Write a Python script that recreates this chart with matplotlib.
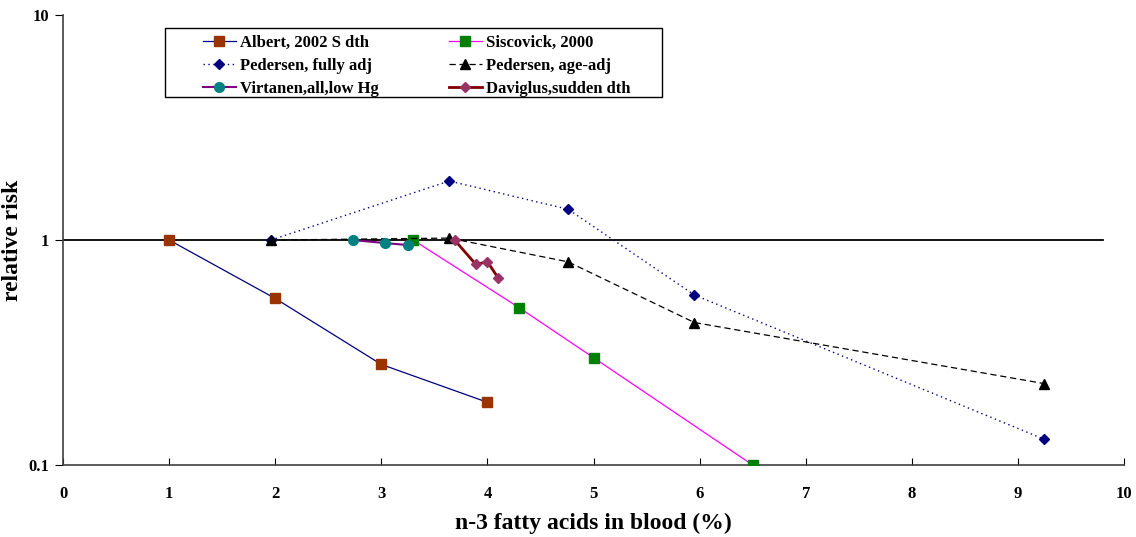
import matplotlib
matplotlib.use("Agg")
import matplotlib.pyplot as plt
from matplotlib.patches import Rectangle
from matplotlib.ticker import FixedLocator, FixedFormatter, NullLocator

# relative risk vs. blood n-3 fatty acid level, per study
albert_x = [1.0, 2.0, 3.0, 4.0]
albert_y = [1.0, 0.55, 0.28, 0.19]

sisc_x = [3.3, 4.3, 5.0, 6.5]
sisc_y = [1.0, 0.50, 0.30, 0.10]

ped_full_x = [1.96, 3.64, 4.76, 5.95, 9.25]
ped_full_y = [1.0, 1.83, 1.37, 0.57, 0.13]

ped_age_x = [1.96, 3.64, 4.76, 5.95, 9.25]
ped_age_y = [1.0, 1.02, 0.80, 0.43, 0.23]

virt_x = [2.73, 3.03, 3.25]
virt_y = [1.0, 0.97, 0.95]

davig_x = [3.69, 3.89, 4.0, 4.1]
davig_y = [1.0, 0.78, 0.80, 0.68]

x_ticks = list(range(0, 11))
y_ticks = [0.1, 1, 10]
y_tick_labels = ["0.1", "1", "10"]

plt.rcParams["font.family"] = ["Liberation Serif", "DejaVu Serif"]
plt.rcParams["font.weight"] = "bold"

fig = plt.figure(figsize=(11.36, 5.37), dpi=100)
ax = fig.add_axes([0.0555, 0.134, 0.934, 0.838])

ax.plot([0, 9.8], [1, 1], color="black", lw=1.3, zorder=1)

h_alb, = ax.plot(albert_x, albert_y, color="#000080", lw=0.9, marker="s", ms=6.5,
                 mfc="#993300", mec="#993300", label="Albert, 2002 S dth", zorder=3)
h_sis, = ax.plot(sisc_x, sisc_y, color="#FF00FF", lw=0.9, marker="s", ms=6.5,
                 mfc="#008000", mec="#008000", label="Siscovick, 2000", zorder=3)
h_pf, = ax.plot(ped_full_x, ped_full_y, color="#000080", lw=1.0, ls=(0, (1, 2.5)),
                marker="D", ms=5, mfc="#000080", mec="#000080",
                label="Pedersen, fully adj", zorder=3)
h_pa, = ax.plot(ped_age_x, ped_age_y, color="black", lw=0.9, ls=(0, (5, 3)),
                marker="^", ms=6.5, mfc="black", mec="black",
                label="Pedersen, age-adj", zorder=3)
h_vir, = ax.plot(virt_x, virt_y, color="#800080", lw=1.5, marker="o", ms=7,
                 mfc="#008080", mec="#008080", label="Virtanen,all,low Hg", zorder=4)
h_dav, = ax.plot(davig_x, davig_y, color="#800000", lw=2, marker="D", ms=5,
                 mfc="#993366", mec="#993366", label="Daviglus,sudden dth", zorder=4)

ax.set_yscale("log")
ax.set_xlim(0, 10)
ax.set_ylim(0.1, 10)
ax.yaxis.set_major_locator(FixedLocator(y_ticks))
ax.yaxis.set_major_formatter(FixedFormatter(y_tick_labels))
ax.yaxis.set_minor_locator(NullLocator())
ax.set_xticks(x_ticks)

for s in ("top", "right"):
    ax.spines[s].set_visible(False)
for s in ("left", "bottom"):
    ax.spines[s].set_color("#404040")
    ax.spines[s].set_linewidth(1.2)

ax.tick_params(axis="x", direction="in", length=5, labelsize=12, pad=15)
ax.tick_params(axis="y", direction="out", length=6, labelsize=12, pad=4)
for lbl in ax.get_xticklabels() + ax.get_yticklabels():
    lbl.set_fontweight("bold")

ax.set_xlabel("n-3 fatty acids in blood (%)", fontsize=17, fontweight="bold",
              labelpad=8)
ax.set_ylabel("relative risk", fontsize=17, fontweight="bold")
ax.yaxis.set_label_coords(-0.038, 0.5)

# legend filled row by row: matplotlib fills columns first, so reorder
handles = [h_alb, h_pf, h_vir, h_sis, h_pa, h_dav]
leg = ax.legend(handles=handles, labels=[h.get_label() for h in handles],
                ncol=2, loc="upper left", bbox_to_anchor=(0.1315, 0.955),
                frameon=False, prop={"size": 12, "weight": "bold"},
                handlelength=2.0, columnspacing=4.2, borderpad=0.0,
                borderaxespad=0.0, labelspacing=0.4, handletextpad=0.25)

# plain rectangular frame around the legend
ax.add_patch(Rectangle((0.0962, 0.818), 0.4685, 0.153, transform=ax.transAxes,
                       fill=False, edgecolor="black", lw=1.0, zorder=5,
                       clip_on=False))

fig.savefig("out.png", dpi=100)
